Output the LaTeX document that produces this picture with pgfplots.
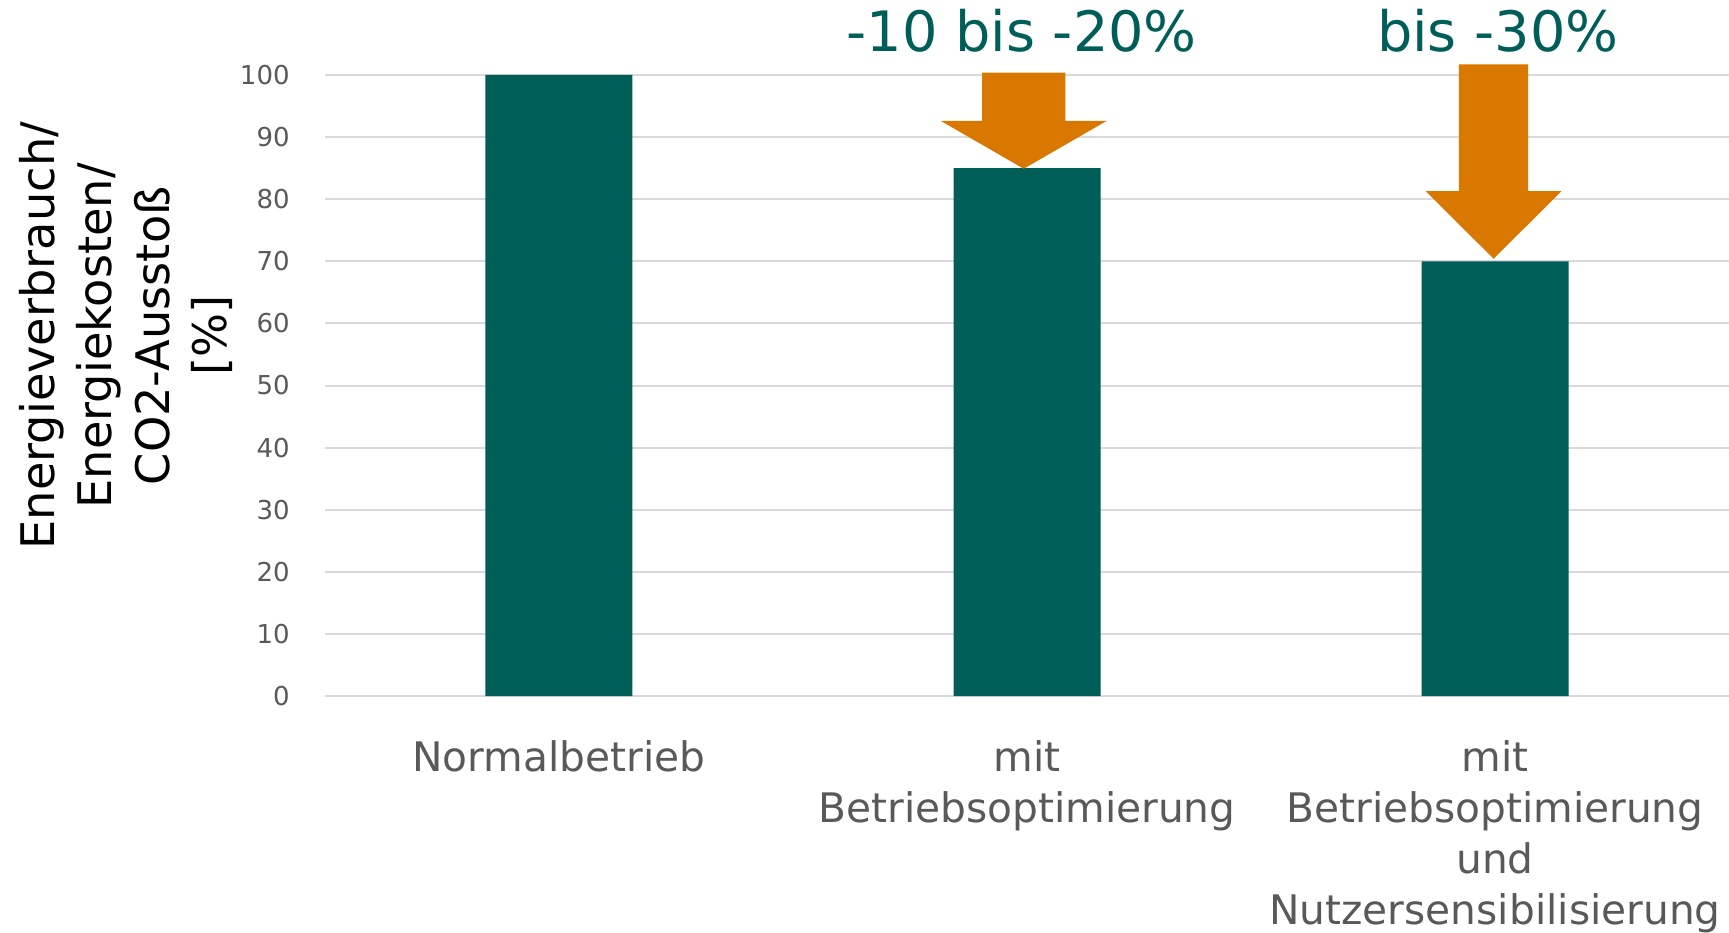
\documentclass[border=0pt]{standalone}
\usepackage{pgfplots}
\pgfplotsset{compat=1.18}
\usepackage{fontspec}
\setmainfont{DejaVu Sans}
\definecolor{barcol}{HTML}{005E58}
\definecolor{arrcol}{HTML}{D97800}
\definecolor{txtgray}{HTML}{595959}
\definecolor{gridgray}{HTML}{D9D9D9}
\begin{document}
\begin{tikzpicture}
\path[use as bounding box] (-162.5pt,-118pt) rectangle (702pt,348pt);
\begin{axis}[
  at={(0,0)}, anchor=south west,
  scale only axis, width=702pt, height=310.5pt,
  xmin=-0.5, xmax=2.5, ymin=0, ymax=100,
  xtick={0,1,2},
  xticklabels={Normalbetrieb,{mit\\Betriebsoptimierung},{mit\\Betriebsoptimierung\\und\\Nutzersensibilisierung}},
  ytick={0,10,...,100},
  ymajorgrids, grid style={gridgray, line width=1pt},
  axis line style={draw=none},
  major tick length=0pt,
  /pgf/number format/assume math mode=true,
  yticklabel style={font=\fontsize{13}{15}\selectfont, text=txtgray, inner sep=0pt, anchor=east, xshift=-17.5pt},
  xticklabel style={font=\fontsize{20.35}{25.6}\selectfont, text=txtgray, align=center, inner sep=0pt, anchor=north, yshift=-22pt},
  clip=false,
  bar width=73.5pt,
]
\addplot[ybar, fill=barcol, draw=none] coordinates {(0,100) (1,85) (2,70)};
\addplot[fill=arrcol, draw=none] coordinates {(0.904,100.4) (1.082,100.4) (1.082,92.6) (1.170,92.6) (0.993,84.9) (0.816,92.6) (0.904,92.6)};
\addplot[fill=arrcol, draw=none] coordinates {(1.923,101.7) (2.071,101.7) (2.071,81.3) (2.142,81.3) (1.997,70.4) (1.852,81.3) (1.923,81.3)};
\node[anchor=base, text=barcol, font=\fontsize{27.85}{33}\selectfont, inner sep=0pt] at (axis cs:0.989,103.8) {-10 bis -20\%};
\node[anchor=base, text=barcol, font=\fontsize{27.85}{33}\selectfont, inner sep=0pt] at (axis cs:2.006,103.8) {bis -30\%};
\node[rotate=90, align=center, inner sep=0pt, font=\fontsize{23.15}{28.75}\selectfont, text=black] at (rel axis cs:-0.1417,0.58) {Energieverbrauch/\\Energiekosten/\\CO2-Ausstoß\\{[\%]}};
\end{axis}
\end{tikzpicture}
\end{document}
